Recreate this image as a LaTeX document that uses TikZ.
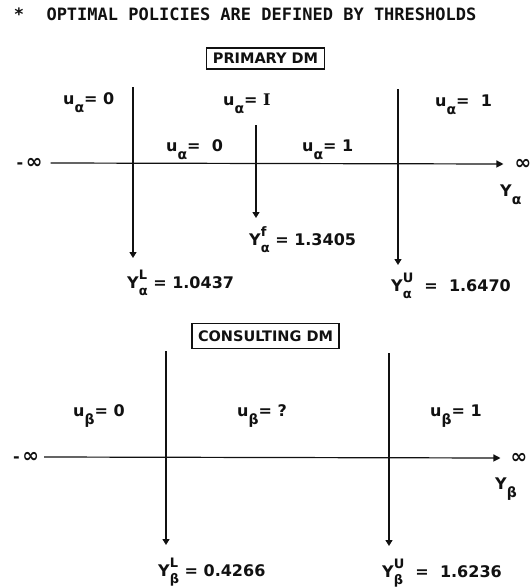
\documentclass[tikz,border=0pt]{standalone}
\usepackage{fontspec}
\setmainfont{DejaVu Sans}
\newfontfamily\plotmono{DejaVu Sans Mono}
\newfontfamily\plotserif{DejaVu Serif}
\usepackage{xcolor}
\usepackage{tikz}
\usetikzlibrary{positioning, arrows.meta}
\definecolor{ink}{RGB}{17,17,17}

% lowered index, and a raised/lowered pair for thresholds
\newcommand{\dn}[1]{\raisebox{-8pt}{\fontsize{14}{14}\selectfont #1}}
\newcommand{\supsub}[2]{%
  \begingroup
  \setbox0\hbox{\raisebox{9pt}{\fontsize{13}{13}\selectfont #1}}%
  \setbox2\hbox{\raisebox{-7pt}{\fontsize{13}{13}\selectfont #2}}%
  \ifdim\wd0>\wd2 \rlap{\box2}\box0 \else\rlap{\box0}\box2 \fi
  \endgroup}
\newcommand{\bigoo}{\scalebox{1.25}{∞}}

\begin{document}
\begin{tikzpicture}[x=1pt, y=-1pt,
    hdr/.style={font=\plotmono\fontsize{17}{20}\selectfont\bfseries, text=ink, inner sep=0pt},
    dmbox/.style={draw=ink, line width=1.2pt, font=\fontsize{14.5}{17}\selectfont\bfseries,
                  text=ink, inner xsep=6pt, inner ysep=2pt},
    lbl/.style={font=\fontsize{16}{19}\selectfont\bfseries, text=ink, inner sep=0pt, anchor=base west},
    arr/.style={draw=ink, line width=1.4pt, -{Triangle[length=6pt, width=7pt]}},
    axis/.style={draw=ink, line width=1.2pt, -{Triangle[length=7pt, width=7pt]}}
  ]
  \path[fill=white, use as bounding box] (0,0) rectangle (531,587);

  % heading
  \node[hdr] (star) at (19,14) {*};
  \node[hdr, right=22pt of star] (title) {OPTIMAL POLICIES ARE DEFINED BY THRESHOLDS};

  % primary DM
  \node[dmbox, minimum height=21pt] (prim) at (265.5,58.5) {PRIMARY DM};
  \node[lbl] (uaLo) at (63,104) {u\dn{α}= 0};
  \node[lbl] (uaMid) at (223,105) {u\dn{α}= {\plotserif I}};
  \node[lbl] (uaHi) at (435,106) {u\dn{α}= \ 1};
  \node[lbl] (uaLoM) at (166,151) {u\dn{α}= \ 0};
  \node[lbl] (uaHiM) at (302,151) {u\dn{α}= 1};
  \node[lbl, anchor=center] (minfA) at (29.5,163) {-\,\bigoo};
  \node[lbl, anchor=center] (infA) at (523,164) {\bigoo};
  \node[lbl] (yA) at (500,196) {Y\dn{α}};
  \coordinate (aLtop) at (133,87);   \coordinate (aLtip) at (133,258);
  \coordinate (aFtop) at (256,125);  \coordinate (aFtip) at (256,218);
  \coordinate (aUtop) at (398,89);   \coordinate (aUtip) at (398,265);
  \node[lbl] (yaF) at (249,245) {Y\supsub{f}{α} = 1.3405};
  \node[lbl] (yaL) at (127,288) {Y\supsub{L}{α} = 1.0437};
  \node[lbl] (yaU) at (391,291) {Y\supsub{U}{α} \ = \ 1.6470};
  \draw[axis] ([xshift=8pt]minfA.east) -- ([xshift=-11pt]infA.west);
  \draw[arr] (aLtop) -- (aLtip);
  \draw[arr] (aFtop) -- (aFtip);
  \draw[arr] (aUtop) -- (aUtip);

  % consulting DM
  \node[dmbox, minimum height=25pt] (cons) at (265.5,336) {CONSULTING DM};
  \node[lbl] (ubLo) at (73,416) {u\dn{β}= 0};
  \node[lbl] (ubMid) at (237,416) {u\dn{β}= ?};
  \node[lbl] (ubHi) at (430,416) {u\dn{β}= 1};
  \node[lbl, anchor=center] (minfB) at (26,457) {-\,\bigoo};
  \node[lbl, anchor=center] (infB) at (519,458) {\bigoo};
  \node[lbl] (yB) at (495,489) {Y\dn{β}};
  \coordinate (bLtop) at (166,351);  \coordinate (bLtip) at (166,545);
  \coordinate (bUtop) at (389,353);  \coordinate (bUtip) at (389,546);
  \node[lbl] (ybL) at (158,576) {Y\supsub{L}{β} = 0.4266};
  \node[lbl] (ybU) at (382,577) {Y\supsub{U}{β} \ = \ 1.6236};
  \draw[axis] ([xshift=5pt]minfB.east) -- ([xshift=-10pt]infB.west);
  \draw[arr] (bLtop) -- (bLtip);
  \draw[arr] (bUtop) -- (bUtip);
\end{tikzpicture}
\end{document}
